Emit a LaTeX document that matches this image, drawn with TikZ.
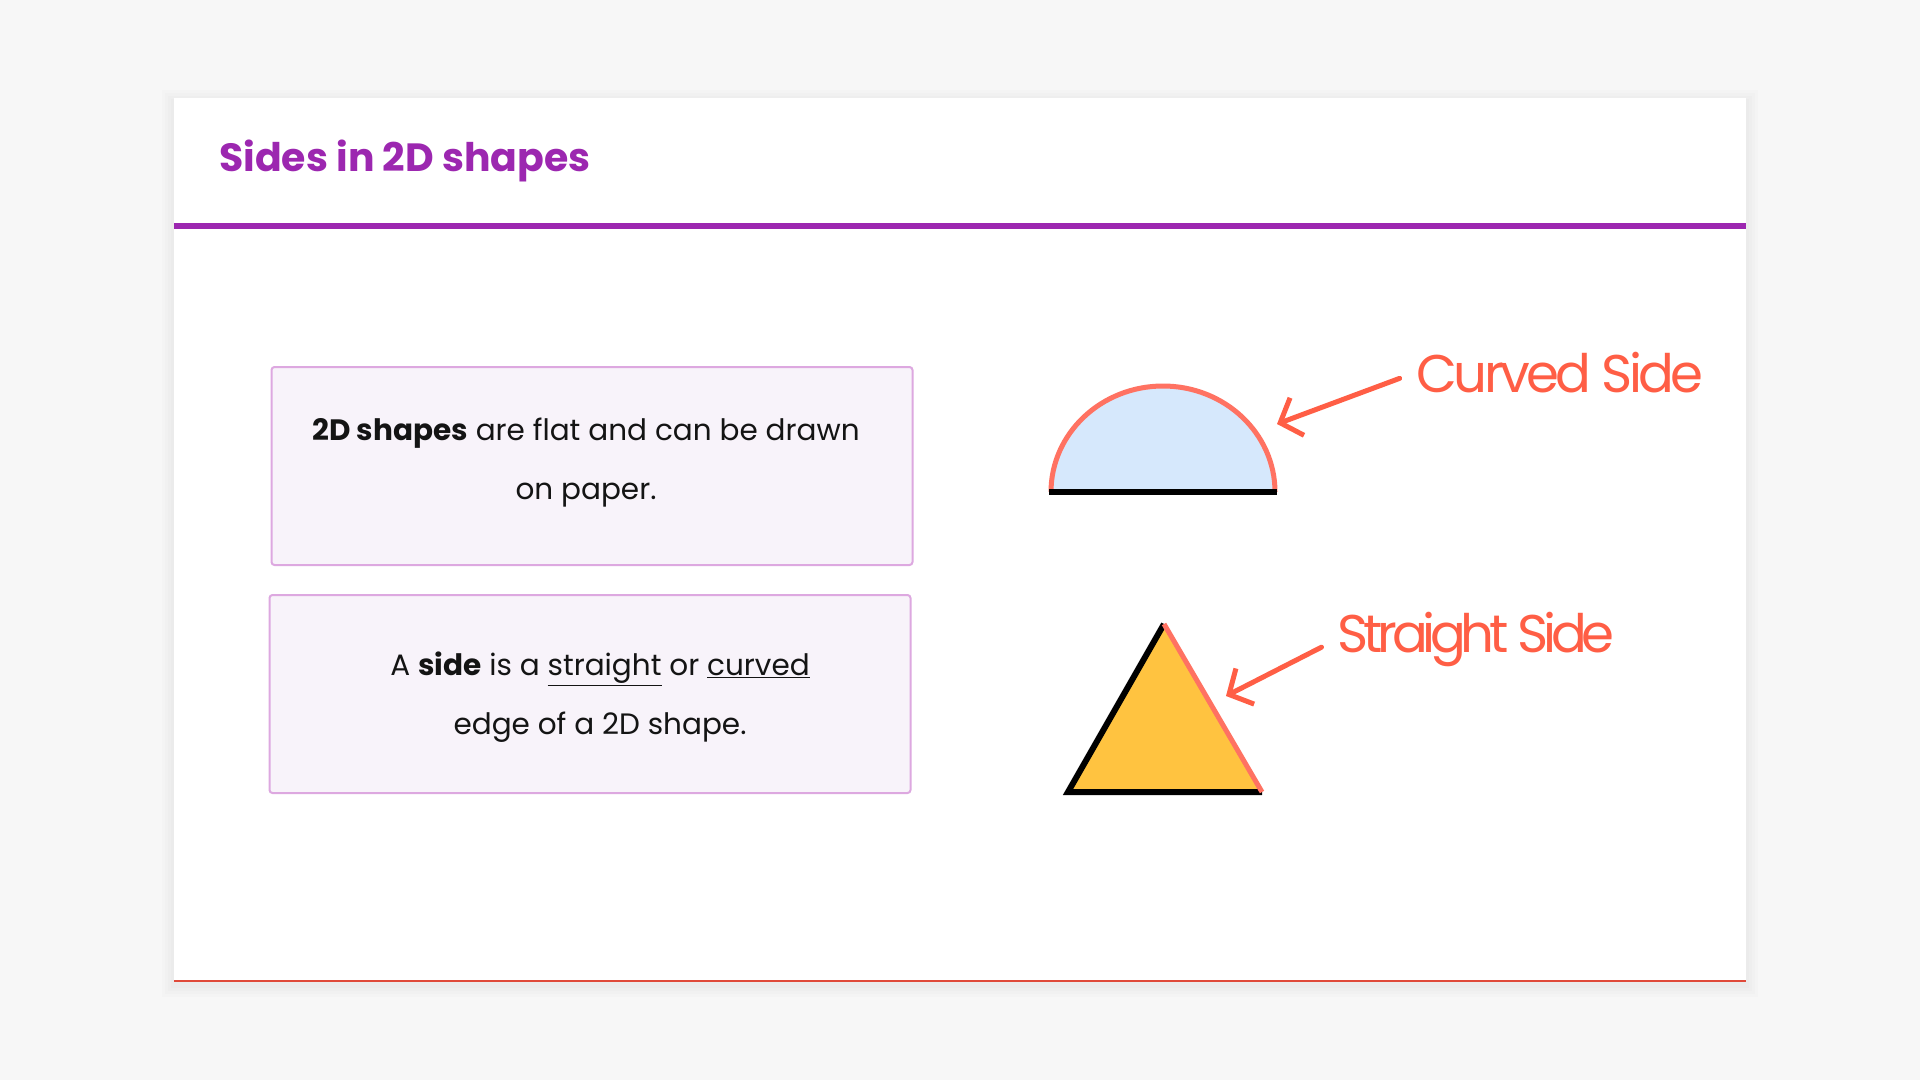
\documentclass[tikz,border=0pt]{standalone}
\usepackage{fontspec}
\setmainfont{Poppins}
\usetikzlibrary{arrows.meta}
\definecolor{pagebg}{HTML}{F7F7F7}
\definecolor{titlepurple}{HTML}{9C27B0}
\definecolor{boxfill}{HTML}{F8F3FA}
\definecolor{boxline}{HTML}{DDA8E0}
\definecolor{coral}{HTML}{FF5E45}
\definecolor{arccoral}{HTML}{FF7262}
\definecolor{halfblue}{HTML}{D6E8FC}
\definecolor{triyellow}{HTML}{FFC340}
\definecolor{cardedge}{HTML}{E04A3A}
\begin{document}
\begin{tikzpicture}[x=1pt, y=-1pt,
  infobox/.style={draw=boxline, line width=2pt, fill=boxfill, rounded corners=3pt,
    minimum width=641pt, minimum height=198pt},
  boxtext/.style={align=center, font=\fontsize{29.5}{59}\selectfont, text=black!92},
  sidelabel/.style={anchor=base west, inner sep=0pt, text=coral,
    font=\fontsize{53}{60}\selectfont\addfontfeatures{LetterSpace=#1}},
  pointer/.style={draw=coral, line width=5pt, line cap=round, line join=round,
    -{Straight Barb[length=18pt, width=40pt]}, shorten <=18pt}]
\useasboundingbox (0,0) rectangle (1920,1080);
\fill[pagebg] (0,0) rectangle (1920,1080);
% card
\foreach \s in {12,9,6,3}
  \fill[black, opacity=0.012] (174-\s,98-\s+4) rectangle (1746+\s,981+\s+4);
\fill[white] (174,98) rectangle (1746,981);
\draw[cardedge, line width=1.5pt] (174,981) -- (1746,981);
\node[anchor=base west, inner sep=0pt, text=titlepurple,
  font=\fontsize{39.4}{44}\selectfont\bfseries] (title) at (219,171) {Sides in 2D shapes};
\fill[titlepurple] (174,222.5) rectangle (1746,228.5);
% text boxes
\node[infobox] (flatbox) at (592,466) {};
\node[boxtext] (flattext) at (586,463) {\textbf{2D shapes} are flat and can be drawn\\on paper.};
\node[infobox] (sidebox) at (590,694) {};
\node[boxtext] (sidetext) at (600,697) {A \textbf{side} is a \underline{straight} or \underline{curved}\\edge of a 2D shape.};
% half circle
\fill[halfblue] (1051,492) arc[start angle=180, end angle=0, x radius=112pt, y radius=106pt] -- cycle;
\draw[arccoral, line width=5pt] (1051,492) arc[start angle=180, end angle=0, x radius=112pt, y radius=106pt];
\draw[black, line width=6pt] (1049,492) -- (1277,492);
% triangle
\coordinate (apex) at (1164,624);
\coordinate (triL) at (1068,792);
\coordinate (triR) at (1262,792);
\fill[triyellow] (apex) -- (triR) -- (triL) -- cycle;
\draw[black, line width=6pt] (apex) -- (triL) -- (triR);
\draw[arccoral, line width=5pt] (apex) -- (triR);
% labels
\node[sidelabel=-7] (curvedlbl) at (1416.5,392) {Curved Side};
\coordinate (curvedtip) at (1277,424);
\draw[pointer] (curvedlbl.west) -- (curvedtip);
\node[sidelabel=-10] (straightlbl) at (1337.5,652) {Straight Side};
\coordinate (straighttip) at (1226,696);
\draw[pointer] (straightlbl.west) -- (straighttip);
\end{tikzpicture}
\end{document}
